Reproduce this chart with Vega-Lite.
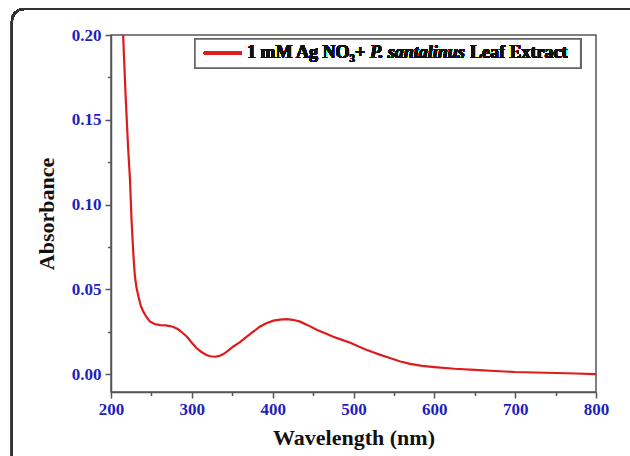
{
  "$schema": "https://vega.github.io/schema/vega-lite/v6.json",
  "autosize": "none",
  "width": 485,
  "height": 357,
  "padding": {"left": 111, "top": 35, "right": 34, "bottom": 64},
  "background": "white",
  "config": {
    "view": {"stroke": "#555555", "strokeWidth": 1.5},
    "font": "Liberation Serif",
    "axis": {
      "labelFont": "Liberation Serif",
      "labelFontSize": 17,
      "labelFontWeight": "bold",
      "labelColor": "#1f1fbf",
      "titleFont": "Liberation Serif",
      "titleFontSize": 22,
      "titleFontWeight": "bold",
      "titleColor": "#111111",
      "domainColor": "#555555",
      "domainWidth": 1.5,
      "tickColor": "#555555",
      "tickWidth": 1.5,
      "grid": false
    }
  },
  "data": {
    "values": [
      {"nm": 200, "A": 0.40}, {"nm": 205, "A": 0.31}, {"nm": 210, "A": 0.235},
      {"nm": 213, "A": 0.212}, {"nm": 215, "A": 0.2}, {"nm": 218, "A": 0.165},
      {"nm": 221, "A": 0.135}, {"nm": 223.5, "A": 0.1145}, {"nm": 225.5, "A": 0.09},
      {"nm": 227.5, "A": 0.072}, {"nm": 229.5, "A": 0.058}, {"nm": 231.5, "A": 0.051},
      {"nm": 234, "A": 0.0456}, {"nm": 237, "A": 0.04}, {"nm": 240, "A": 0.0368},
      {"nm": 244, "A": 0.0335}, {"nm": 248, "A": 0.031}, {"nm": 254, "A": 0.0295},
      {"nm": 261, "A": 0.0289}, {"nm": 268, "A": 0.0287}, {"nm": 273, "A": 0.0283},
      {"nm": 278, "A": 0.0276}, {"nm": 283, "A": 0.0264}, {"nm": 288, "A": 0.0245},
      {"nm": 294, "A": 0.022}, {"nm": 300, "A": 0.0185}, {"nm": 306, "A": 0.0152},
      {"nm": 312, "A": 0.013}, {"nm": 318, "A": 0.0112}, {"nm": 323, "A": 0.0105},
      {"nm": 329, "A": 0.0102}, {"nm": 334, "A": 0.0107}, {"nm": 339, "A": 0.0118},
      {"nm": 345, "A": 0.0138}, {"nm": 351, "A": 0.0161}, {"nm": 360, "A": 0.019},
      {"nm": 368, "A": 0.022}, {"nm": 376, "A": 0.025}, {"nm": 384, "A": 0.0279},
      {"nm": 392, "A": 0.03}, {"nm": 401, "A": 0.0315}, {"nm": 409, "A": 0.0321},
      {"nm": 417, "A": 0.0324}, {"nm": 425, "A": 0.032}, {"nm": 434, "A": 0.0309},
      {"nm": 444, "A": 0.0287}, {"nm": 455, "A": 0.026}, {"nm": 465, "A": 0.024},
      {"nm": 475, "A": 0.022}, {"nm": 485, "A": 0.0203}, {"nm": 496, "A": 0.0185},
      {"nm": 505, "A": 0.0165}, {"nm": 515, "A": 0.0145}, {"nm": 525, "A": 0.0127},
      {"nm": 535, "A": 0.011}, {"nm": 545, "A": 0.0095}, {"nm": 557, "A": 0.0075},
      {"nm": 570, "A": 0.006}, {"nm": 585, "A": 0.0048}, {"nm": 600, "A": 0.0041},
      {"nm": 625, "A": 0.0031}, {"nm": 650, "A": 0.0024}, {"nm": 675, "A": 0.0018},
      {"nm": 700, "A": 0.0012}, {"nm": 725, "A": 0.0009}, {"nm": 750, "A": 0.0006},
      {"nm": 775, "A": 0.0003}, {"nm": 800, "A": 0.0}
    ]
  },
  "layer": [
    {
      "mark": {"type": "rect", "fill": null, "filled": false, "stroke": "#333333", "strokeWidth": 2, "cornerRadius": 12, "clip": false},
      "encoding": {
        "x": {"datum": 77.5},
        "x2": {"datum": 860},
        "y": {"datum": 0.2153},
        "y2": {"datum": -0.07}
      }
    },
    {
      "mark": {"type": "line", "color": "#dd1c1c", "strokeWidth": 2.2, "clip": true},
      "encoding": {
        "x": {
          "field": "nm", "type": "quantitative",
          "scale": {"domain": [200, 800], "nice": false, "zero": false},
          "axis": {
            "title": "Wavelength (nm)",
            "values": [200, 250, 300, 350, 400, 450, 500, 550, 600, 650, 700, 750, 800],
            "labelExpr": "datum.value % 100 == 0 ? datum.label : ''",
            "tickSize": {"condition": {"test": "datum.value % 100 == 0", "value": 6}, "value": 3.5},
            "labelPadding": 3,
            "titlePadding": 10,
            "labelFlush": false
          }
        },
        "y": {
          "field": "A", "type": "quantitative",
          "scale": {"domain": [-0.0106, 0.2], "nice": false, "zero": false},
          "axis": {
            "title": "Absorbance",
            "values": [0, 0.025, 0.05, 0.075, 0.1, 0.125, 0.15, 0.175, 0.2],
            "format": ".2f",
            "labelExpr": "abs(datum.value*20 - round(datum.value*20)) < 0.001 ? datum.label : ''",
            "tickSize": {"condition": {"test": "abs(datum.value*20 - round(datum.value*20)) < 0.001", "value": 6}, "value": 3.5},
            "labelPadding": 4,
            "titlePadding": 13,
            "labelFlush": false
          }
        }
      }
    },
    {
      "mark": {"type": "rect", "fill": "white", "stroke": "#666666", "strokeWidth": 1.5},
      "encoding": {
        "x": {"datum": 303.9},
        "x2": {"datum": 781},
        "y": {"datum": 0.1976},
        "y2": {"datum": 0.1805}
      }
    },
    {
      "mark": {"type": "rule", "color": "#dd1c1c", "strokeWidth": 2.5},
      "encoding": {
        "x": {"datum": 315},
        "x2": {"datum": 362},
        "y": {"datum": 0.1894}
      }
    },
    {
      "mark": {"type": "text", "align": "left", "baseline": "middle", "font": "Liberation Serif", "fontSize": 18, "fontWeight": "bold", "color": "#111111"},
      "encoding": {
        "x": {"datum": 368.3},
        "y": {"datum": 0.1894},
        "text": {"value": "1 mM Ag NO₃+"}
      }
    },
    {
      "mark": {"type": "text", "align": "left", "baseline": "middle", "font": "Liberation Serif", "fontSize": 18, "fontWeight": "bold", "fontStyle": "italic", "color": "#111111"},
      "encoding": {
        "x": {"datum": 520.4},
        "y": {"datum": 0.1894},
        "text": {"value": "P. santalinus"}
      }
    },
    {
      "mark": {"type": "text", "align": "left", "baseline": "middle", "font": "Liberation Serif", "fontSize": 18, "fontWeight": "bold", "color": "#111111"},
      "encoding": {
        "x": {"datum": 644.1},
        "y": {"datum": 0.1894},
        "text": {"value": "Leaf Extract"}
      }
    }
  ]
}
